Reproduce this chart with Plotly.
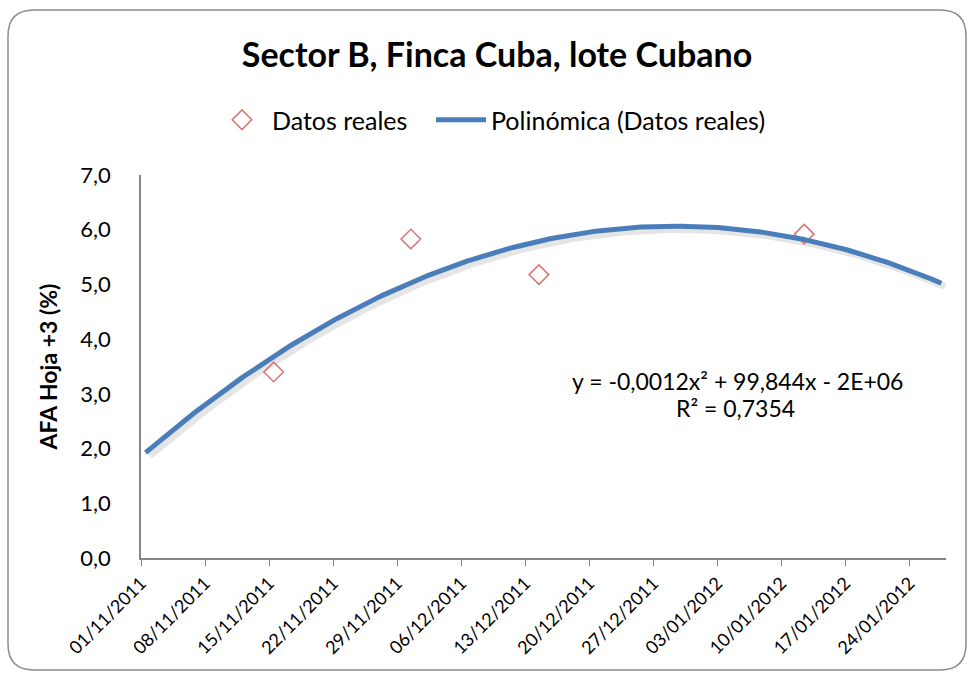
import numpy as np
import pandas as pd
import plotly.graph_objects as go

# ---- data ----
fechas = ["2011-11-15", "2011-11-30", "2011-12-14", "2012-01-12"]
afa = [3.40, 5.83, 5.18, 5.92]
eje_inicio = "2011-11-01"
eje_fin = "2012-01-28"
titulo = "Sector B, Finca Cuba, lote Cubano"
y_titulo = "AFA Hoja +3 (%)"
ecuacion = "y = -0,0012x² + 99,844x - 2E+06"
r2_texto = "R² = 0,7354"

FONT = "Lato"
W, H = 974, 673
ML, MR, MT, MB = 141, 28, 175, 115
PW, PH = W - ML - MR, H - MT - MB

t0 = pd.Timestamp(eje_inicio)
t_end = pd.Timestamp(eje_fin)
half = pd.Timedelta(hours=12)
d = pd.to_datetime(fechas)
t_days = np.array([(x - t0).days for x in d], dtype=float)
y = np.array(afa)

# polynomial (order 2) trendline, least squares on the data
coef = np.polyfit(t_days, y, 2)
n_days = (t_end - t0).days
tt = np.linspace(0, n_days - 1, 300)
yy = np.polyval(coef, tt)
x_trend = [t0 + pd.Timedelta(days=float(v)) + half for v in tt]
x_pts = [x + half for x in d]

fig = go.Figure()
# shadow of trendline
fig.add_trace(go.Scatter(x=[v + pd.Timedelta(hours=10) for v in x_trend], y=yy - 0.06, mode="lines",
                         line=dict(color="rgba(0,0,0,0.10)", width=7), showlegend=False, hoverinfo="skip"))
fig.add_trace(go.Scatter(x=x_pts, y=y, mode="markers", name="Datos reales", legend="legend",
                         marker=dict(symbol="diamond-open", size=15, color="#D77a78",
                                     line=dict(width=1.6, color="#D77a78"))))
fig.add_trace(go.Scatter(x=x_trend, y=yy, mode="lines", name="Polinómica (Datos reales)",
                         legend="legend2", line=dict(color="#4A7EBB", width=5)))


def px2paper(px, py):
    return (px - ML) / PW, (H - MB - py) / PH


# rounded chart border
x1, y1, x2, y2, r = 8, 10, 966, 670, 26
def P(px, py):
    a, b = px2paper(px, py)
    return f"{a:.5f},{b:.5f}"
path = (f"M {P(x1 + r, y1)} L {P(x2 - r, y1)} Q {P(x2, y1)} {P(x2, y1 + r)} "
        f"L {P(x2, y2 - r)} Q {P(x2, y2)} {P(x2 - r, y2)} L {P(x1 + r, y2)} "
        f"Q {P(x1, y2)} {P(x1, y2 - r)} L {P(x1, y1 + r)} Q {P(x1, y1)} {P(x1 + r, y1)} Z")
fig.add_shape(type="path", path=path, xref="paper", yref="paper",
              line=dict(color="#8C8C8C", width=1.5), layer="below")

lx, ly = px2paper(737, 381)
fig.add_annotation(x=lx, y=ly, xref="paper", yref="paper", text=ecuacion, showarrow=False,
                   font=dict(family=FONT, size=23, color="black"), xanchor="center", yanchor="middle")
lx, ly = px2paper(735, 408)
fig.add_annotation(x=lx, y=ly, xref="paper", yref="paper", text=r2_texto, showarrow=False,
                   font=dict(family=FONT, size=23, color="black"), xanchor="center", yanchor="middle")

l1x, l1y = px2paper(212, 120)
l2x, l2y = px2paper(431, 120)
legfont = dict(family=FONT, size=25, color="black")
fig.update_layout(
    width=W, height=H,
    margin=dict(l=ML, r=MR, t=MT, b=MB),
    paper_bgcolor="white", plot_bgcolor="white",
    separators=",.",
    font=dict(family=FONT, color="black"),
    title=dict(text=f"<b>{titulo}</b>", x=497 / W, y=1 - 55 / H, xanchor="center", yanchor="middle",
               font=dict(family=FONT, size=34, color="black")),
    legend=dict(orientation="h", x=l1x, y=l1y, xanchor="left", yanchor="middle",
                font=legfont, itemwidth=50),
    legend2=dict(orientation="h", x=l2x, y=l2y, xanchor="left", yanchor="middle",
                 font=legfont, itemwidth=50),
    xaxis=dict(type="date", range=[t0, t_end], tick0=t0, dtick=7 * 86400000,
               tickformat="%d/%m/%Y", tickangle=-45, showgrid=False, zeroline=False,
               showline=True, linecolor="#868686", linewidth=1.5,
               ticks="outside", ticklen=6, tickcolor="#868686",
               tickfont=dict(family=FONT, size=18, color="black")),
    yaxis=dict(range=[0, 7], dtick=1, tickformat=".1f", showgrid=False, zeroline=False,
               showline=True, linecolor="#868686", linewidth=1.5, ticks="",
               ticklabelstandoff=24,
               tickfont=dict(family=FONT, size=22, color="black"),
               title=dict(text=f"<b>{y_titulo}</b>", font=dict(family=FONT, size=23, color="black"),
                          standoff=16)),
)

fig.write_html("out.html", config={"displayModeBar": False},
               post_script="document.body.style.margin='0';")
